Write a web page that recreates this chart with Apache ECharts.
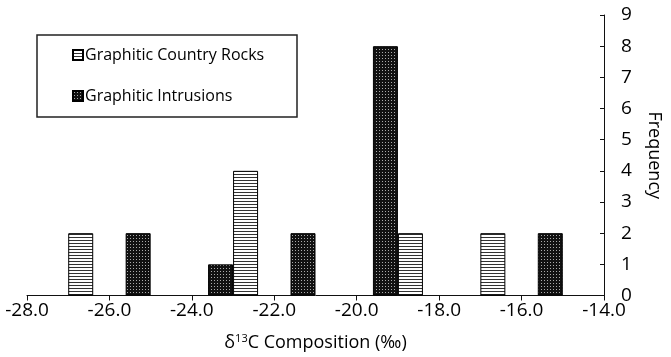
<!DOCTYPE html>
<html>
<head>
<meta charset="utf-8">
<script src="https://cdn.jsdelivr.net/npm/echarts@6/dist/echarts.min.js"></script>
<style>
  html, body { margin: 0; padding: 0; background: #fff; }
  #main { width: 671px; height: 357px; }
</style>
</head>
<body>
<div id="main"></div>
<script>
// bins are 2 permil wide, centred on these values
const binCentres = ['-27', '-25', '-23', '-21', '-19', '-17', '-15'];
const countryRocks = [2, 0, 4, 0, 2, 2, 0];
const intrusions = [0, 2, 1, 2, 8, 0, 2];
const xMin = -28, xMax = -14, xStep = 2;
const yMax = 9;

const FONT = '"Open Sans", "Noto Sans", sans-serif';

// empty bins get no bar at all (otherwise the border draws a flat line)
const noZero = arr => arr.map(v => (v === 0 ? '-' : v));

function stripePattern() {
  const c = document.createElement('canvas');
  c.width = 4; c.height = 3;
  const ctx = c.getContext('2d');
  ctx.fillStyle = '#fff';
  ctx.fillRect(0, 0, 4, 3);
  ctx.fillStyle = '#333';
  ctx.fillRect(0, 0, 4, 1);
  return c;
}

function dotPattern() {
  const c = document.createElement('canvas');
  c.width = 3; c.height = 3;
  const ctx = c.getContext('2d');
  ctx.fillStyle = '#111';
  ctx.fillRect(0, 0, 3, 3);
  ctx.fillStyle = '#aaa';
  ctx.fillRect(1, 1, 1, 1);
  return c;
}

const chart = echarts.init(document.getElementById('main'));
window.addEventListener('resize', () => chart.resize());

const option = {
  animation: false,
  backgroundColor: '#fff',
  textStyle: { fontFamily: FONT, color: '#000' },
  grid: { left: 27, right: 55, top: 15, bottom: 58, containLabel: false },
  graphic: [{
    type: 'rect',
    shape: { x: 37, y: 35, width: 260, height: 82 },
    style: { fill: 'none', stroke: '#222', lineWidth: 1.5 },
    z: 10
  }],
  legend: {
    data: ['Graphitic Country Rocks', 'Graphitic Intrusions'],
    orient: 'vertical',
    left: 72,
    top: 47,
    padding: 0,
    itemGap: 25,
    itemWidth: 10,
    itemHeight: 10,
    icon: 'rect',
    textStyle: { fontFamily: FONT, fontSize: 16, color: '#000', padding: [0, 0, 0, -3] }
  },
  xAxis: [
    {
      type: 'value',
      min: xMin, max: xMax, interval: xStep,
      name: 'δ{sup|13}C Composition (‰)',
      nameLocation: 'middle',
      nameGap: 38,
      nameTextStyle: {
        fontFamily: FONT, fontSize: 18, color: '#000',
        rich: { sup: { fontSize: 11, fontFamily: FONT, color: '#000', padding: [0, 0, 8, 0] } }
      },
      axisLine: { show: true, onZero: false, lineStyle: { color: '#111', width: 1 } },
      axisTick: { show: true, length: 5, lineStyle: { color: '#111' } },
      axisLabel: { fontSize: 19, color: '#000', margin: 6, formatter: v => v.toFixed(1) },
      splitLine: { show: false }
    },
    {
      type: 'category',
      data: binCentres,
      show: false
    }
  ],
  yAxis: {
    type: 'value',
    position: 'right',
    min: 0, max: yMax, interval: 1,
    name: 'Frequency',
    nameLocation: 'middle',
    nameRotate: -90,
    nameGap: 41,
    nameTextStyle: { fontFamily: FONT, fontSize: 18, color: '#000' },
    axisLine: { show: true, lineStyle: { color: '#111', width: 1 } },
    axisTick: { show: true, inside: true, length: 4, lineStyle: { color: '#111' } },
    axisLabel: { fontSize: 19, color: '#000', margin: 17 },
    splitLine: { show: false }
  },
  series: [
    {
      name: 'Graphitic Intrusions',
      type: 'bar',
      xAxisIndex: 1,
      data: noZero(intrusions),
      barWidth: 25,
      barGap: '0%',
      itemStyle: { color: { image: dotPattern(), repeat: 'repeat' }, borderColor: '#000', borderWidth: 1 }
    },
    {
      name: 'Graphitic Country Rocks',
      type: 'bar',
      xAxisIndex: 1,
      data: noZero(countryRocks),
      barWidth: 25,
      barGap: '0%',
      itemStyle: { color: { image: stripePattern(), repeat: 'repeat' }, borderColor: '#000', borderWidth: 1 }
    }
  ]
};

chart.setOption(option);
</script>
</body>
</html>
